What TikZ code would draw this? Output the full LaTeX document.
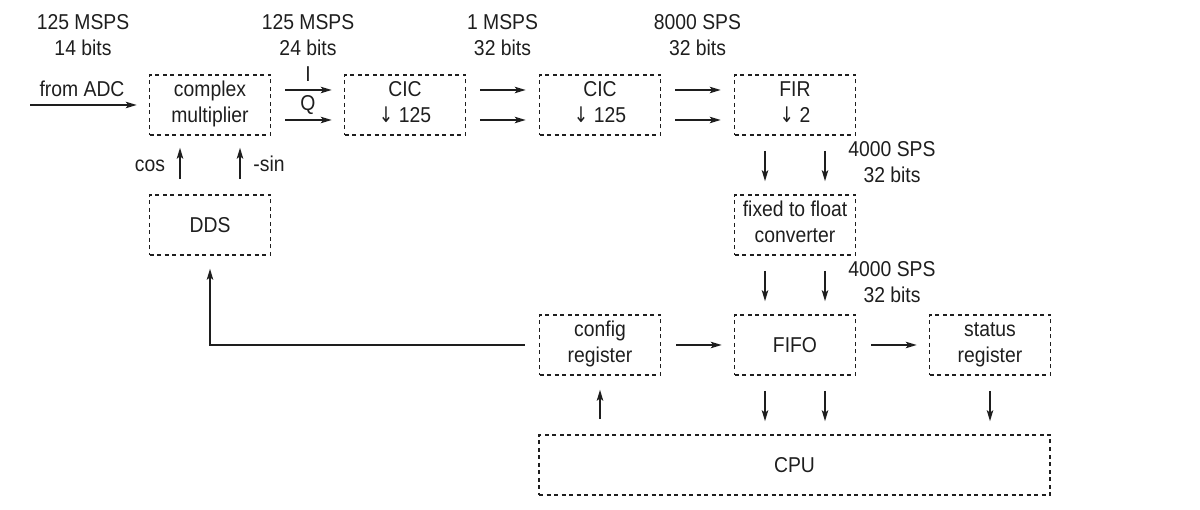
\documentclass[tikz,border=0pt]{standalone}
\usepackage{fontspec}
\setmainfont{Liberation Sans}[FakeStretch=0.9]
\newfontfamily\arrfont{DejaVu Sans}[FakeStretch=0.8]
\usetikzlibrary{arrows.meta,calc}
\definecolor{ink}{RGB}{30,30,30}
\newcommand\twol[2]{\vtop{\baselineskip=26pt\halign{\hfil##\hfil\cr #1\cr #2\cr}}}
\newcommand\dn{{\arrfont ↓}}
\tikzset{
  box/.style={draw=ink, dash pattern=on 4pt off 3.5pt, line width=1.6pt, minimum width=121pt, minimum height=60pt, inner sep=0pt, text=ink},
  one/.style={text height=18pt, text depth=2pt},
  two/.style={text height=10pt, text depth=26pt},
  lab/.style={inner sep=0pt, anchor=base, text=ink},
  flow/.style={draw=ink, line width=1.5pt, -{Stealth[length=11pt,width=6.5pt,inset=2.5pt]}, shorten <=15pt, shorten >=13pt}
}
\begin{document}
\begin{tikzpicture}[x=1pt,y=-1pt,font=\fontsize{21.5}{26}\selectfont]
\useasboundingbox (0,0) rectangle (1200,510);
% boxes
\node[box,two] (cm) at (210,105) {\twol{complex}{multiplier}};
\node[box,two] (cic1) at (405,105) {\twol{CIC}{\dn\ 125}};
\node[box,two] (cic2) at (600,105) {\twol{CIC}{\dn\ 125}};
\node[box,two] (fir) at (795,105) {\twol{FIR}{\dn\ 2}};
\node[box,two] (f2f) at (795,225) {\twol{fixed to float}{converter}};
\node[box,one] (dds) at (210,225) {DDS};
\node[box,two] (config) at (600,345) {\twol{config}{register}};
\node[box,one] (fifo) at (795,345) {FIFO};
\node[box,two] (status) at (990,345) {\twol{status}{register}};
\node[box,one,minimum width=511pt] (cpu) at (794.5,465) {CPU};
% labels
\node[lab] (l1) at (83,30) {\twol{125 MSPS}{14 bits}};
\node[lab] (l2) at (308,30) {\twol{125 MSPS}{24 bits}};
\node[lab] (l3) at (502.5,30) {\twol{1 MSPS}{32 bits}};
\node[lab] (l4) at (697.5,30) {\twol{8000 SPS}{32 bits}};
\node[lab] (l5) at (892,157) {\twol{4000 SPS}{32 bits}};
\node[lab] (l6) at (892,277) {\twol{4000 SPS}{32 bits}};
\node[lab] (ladc) at (82,97) {from ADC};
\node[lab] (li) at (308,82) {I};
\node[lab] (lq) at (308,111) {Q};
\node[lab] (lcos) at (150,172) {cos};
\node[lab] (lsin) at (269,172) {-sin};
% connectors
\coordinate (adc) at (30,105);
\draw[flow, shorten <=0pt, shorten >=12pt] (adc) -- (cm.west);
\draw[flow, shorten <=14pt, shorten >=12pt] ([yshift=15pt]cm.east) -- ([yshift=15pt]cic1.west);
\draw[flow, shorten <=14pt, shorten >=12pt] ([yshift=-15pt]cm.east) -- ([yshift=-15pt]cic1.west);
\draw[flow, shorten <=14pt, shorten >=13pt] ([yshift=15pt]cic1.east) -- ([yshift=15pt]cic2.west);
\draw[flow, shorten <=14pt, shorten >=13pt] ([yshift=-15pt]cic1.east) -- ([yshift=-15pt]cic2.west);
\draw[flow, shorten <=14pt, shorten >=13pt] ([yshift=15pt]cic2.east) -- ([yshift=15pt]fir.west);
\draw[flow, shorten <=14pt, shorten >=13pt] ([yshift=-15pt]cic2.east) -- ([yshift=-15pt]fir.west);
\draw[flow] ([xshift=-30pt]fir.south) -- ([xshift=-30pt]f2f.north);
\draw[flow] ([xshift=30pt]fir.south) -- ([xshift=30pt]f2f.north);
\draw[flow] ([xshift=-30pt]f2f.south) -- ([xshift=-30pt]fifo.north);
\draw[flow] ([xshift=30pt]f2f.south) -- ([xshift=30pt]fifo.north);
\draw[flow] ([xshift=-30pt]fifo.south) -- ([xshift=-30pt]cpu.north-|fifo.south);
\draw[flow] ([xshift=30pt]fifo.south) -- ([xshift=30pt]cpu.north-|fifo.south);
\draw[flow] (status.south) -- (cpu.north-|status.south);
\draw[flow, shorten >=14pt] (cpu.north-|config.south) -- (config.south);
\draw[flow, shorten >=12pt] (config.east) -- (fifo.west);
\draw[flow, shorten >=12pt] (fifo.east) -- (status.west);
\draw[flow, shorten >=12pt] ([xshift=-30pt]dds.north) -- ([xshift=-30pt]cm.south);
\draw[flow, shorten >=12pt] ([xshift=30pt]dds.north) -- ([xshift=30pt]cm.south);
\draw[flow, shorten <=14pt] (config.west) -| (dds.south);
\end{tikzpicture}
\end{document}
